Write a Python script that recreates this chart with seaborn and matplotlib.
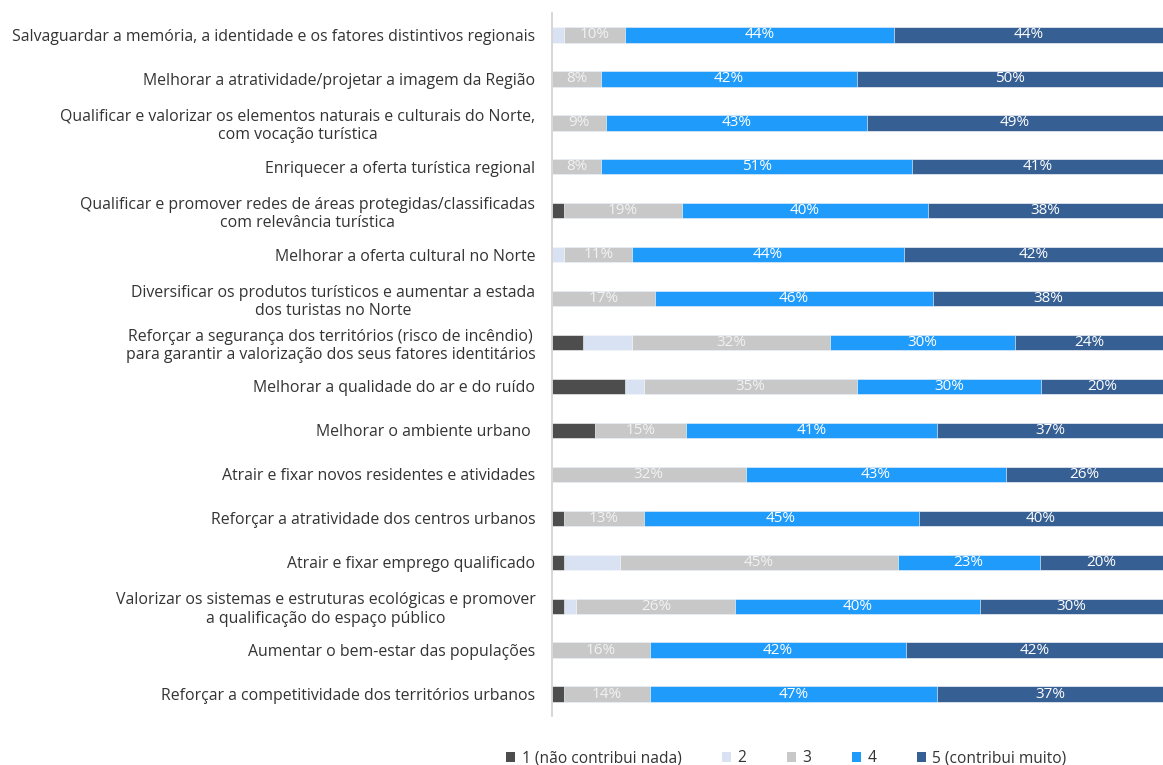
import numpy as np
import pandas as pd
import matplotlib
matplotlib.use("Agg")
import matplotlib.pyplot as plt
import seaborn as sns
from matplotlib.patches import Patch

categories = [
    "Salvaguardar a memória, a identidade e os fatores distintivos regionais",
    "Melhorar a atratividade/projetar a imagem da Região",
    "Qualificar e valorizar os elementos naturais e culturais do Norte,\ncom vocação turística",
    "Enriquecer a oferta turística regional",
    "Qualificar e promover redes de áreas protegidas/classificadas\ncom relevância turística",
    "Melhorar a oferta cultural no Norte",
    "Diversificar os produtos turísticos e aumentar a estada\ndos turistas no Norte",
    "Reforçar a segurança dos territórios (risco de incêndio)\npara garantir a valorização dos seus fatores identitários",
    "Melhorar a qualidade do ar e do ruído",
    "Melhorar o ambiente urbano ",
    "Atrair e fixar novos residentes e atividades",
    "Reforçar a atratividade dos centros urbanos",
    "Atrair e fixar emprego qualificado",
    "Valorizar os sistemas e estruturas ecológicas e promover\na qualificação do espaço público",
    "Aumentar o bem-estar das populações",
    "Reforçar a competitividade dos territórios urbanos",
]

level_1 = [0, 0, 0, 0, 2, 0, 0, 5, 12, 7, 0, 2, 2, 2, 0, 2]
level_2 = [2, 0, 0, 0, 0, 2, 0, 8, 3, 0, 0, 0, 9, 2, 0, 0]
level_3 = [10, 8, 9, 8, 19, 11, 17, 32, 35, 15, 32, 13, 45, 26, 16, 14]
level_4 = [44, 42, 43, 51, 40, 44, 46, 30, 30, 41, 43, 45, 23, 40, 42, 47]
level_5 = [44, 50, 49, 41, 38, 42, 38, 24, 20, 37, 26, 40, 20, 30, 42, 37]

legend_labels = ["1 (não contribui nada)", "2", "3", "4", "5 (contribui muito)"]
colors = ["#4d4d4d", "#d9e2f3", "#c8c8c8", "#1f9bfb", "#365f94"]

sns.set_theme(style="white")
plt.rcParams["font.family"] = ["Open Sans", "DejaVu Sans"]

df = pd.DataFrame({
    "categoria": categories,
    "n1": level_1, "n2": level_2, "n3": level_3, "n4": level_4, "n5": level_5,
})
levels = ["n1", "n2", "n3", "n4", "n5"]

# 100% stacked: each row is scaled to its own total (rounded shares may not add to 100)
totals = df[levels].sum(axis=1)
share = df[levels].div(totals, axis=0) * 100
cum = share.cumsum(axis=1)
cum["categoria"] = df["categoria"]

fig = plt.figure(figsize=(11.63, 7.65), dpi=100)
ax = fig.add_axes([0.4746, 0.064, 0.5254, 0.919])

# Stacked bars: draw cumulative totals from the top level downwards
for i in range(4, -1, -1):
    sns.barplot(data=cum, x=levels[i], y="categoria",
                orient="h", color=colors[i], width=0.35, saturation=1,
                edgecolor="white", linewidth=0.4, ax=ax)

# Value labels for levels 3, 4 and 5
for i in (2, 3, 4):
    vals = df[levels[i]].to_numpy()
    widths = share[levels[i]].to_numpy()
    ends = cum[levels[i]].to_numpy()
    for row, (v, w, e) in enumerate(zip(vals, widths, ends)):
        if v > 0:
            ax.text(e - w / 2, row, f"{v}%", ha="center", va="center",
                    fontsize=11, color="#f2f2f2" if i == 2 else "white")

ax.set_xlim(0, 100)
ax.set_ylim(15.5, -0.5)
ax.set_xlabel("")
ax.set_ylabel("")
ax.set_xticks([])
for s in ("top", "right", "bottom"):
    ax.spines[s].set_visible(False)
ax.spines["left"].set_color("#d0d0d0")
ax.spines["left"].set_linewidth(1.2)
ax.tick_params(axis="y", length=0, pad=12, labelsize=11.4, labelcolor="#333333")
for lbl in ax.get_yticklabels():
    lbl.set_multialignment("center")

handles = [Patch(facecolor=c, edgecolor="none") for c in colors]
fig.legend(handles, legend_labels, loc="center", bbox_to_anchor=(0.676, 0.0085),
           ncol=5, frameon=False, fontsize=11.2, handlelength=0.6, handleheight=0.6,
           handletextpad=0.4, columnspacing=2.6, labelcolor="#333333")

fig.savefig("out.png", dpi=100, facecolor="white")
